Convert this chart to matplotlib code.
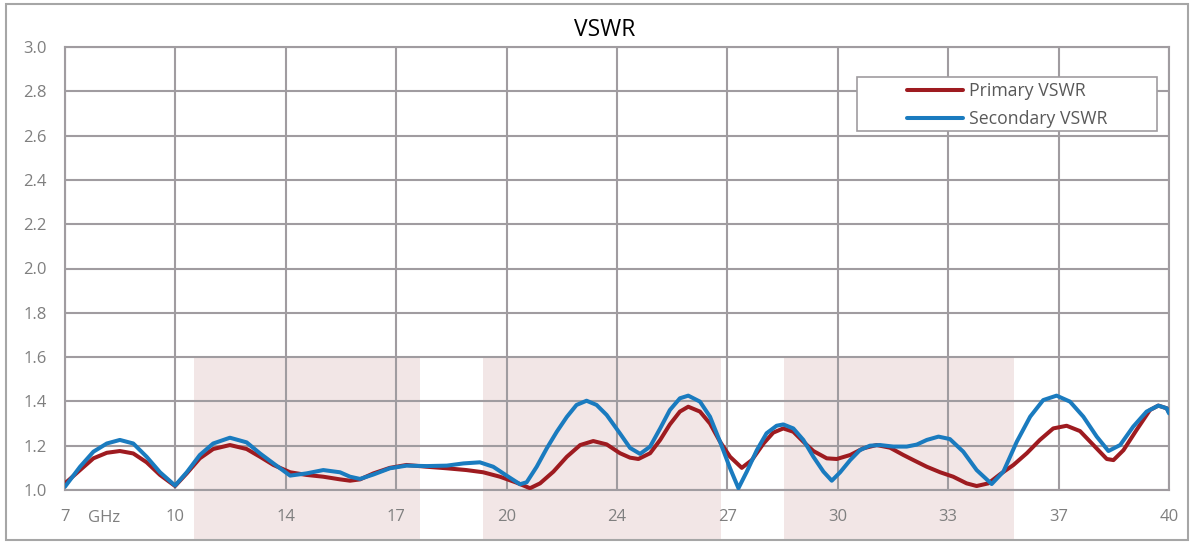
import numpy as np
import matplotlib
matplotlib.use("Agg")
from matplotlib import pyplot as plt
from matplotlib.patches import Rectangle

# data (GHz, VSWR)
primary_f = [7.00, 7.45, 7.85, 8.25, 8.64, 9.04, 9.44, 9.84, 10.29, 10.64, 11.03, 11.43, 11.93,
             12.43, 12.83, 13.23, 13.73, 14.22, 14.72, 15.22, 15.52, 15.82, 16.22, 16.71, 17.21,
             17.81, 18.41, 19.00, 19.50, 20.00, 20.50, 20.90, 21.20, 21.60, 22.00, 22.40, 22.79,
             23.19, 23.59, 23.89, 24.14, 24.49, 24.79, 25.08, 25.38, 25.63, 25.98, 26.28, 26.58,
             26.88, 27.23, 27.53, 27.88, 28.17, 28.47, 28.77, 29.07, 29.37, 29.77, 30.07, 30.47,
             30.86, 31.26, 31.66, 32.06, 32.36, 32.76, 33.16, 33.55, 33.95, 34.25, 34.60, 34.95,
             35.35, 35.75, 36.14, 36.54, 36.94, 37.34, 37.74, 38.14, 38.34, 38.64, 39.03, 39.43,
             39.68, 39.93, 40.00]
primary_v = [1.030, 1.090, 1.143, 1.168, 1.176, 1.165, 1.125, 1.068, 1.018, 1.075, 1.143, 1.185, 1.203,
             1.185, 1.150, 1.113, 1.080, 1.068, 1.060, 1.048, 1.042, 1.048, 1.075, 1.100, 1.113,
             1.105, 1.098, 1.090, 1.080, 1.060, 1.033, 1.008, 1.030, 1.083, 1.150, 1.203, 1.221,
             1.206, 1.166, 1.146, 1.140, 1.166, 1.226, 1.296, 1.354, 1.376, 1.354, 1.300, 1.218,
             1.150, 1.100, 1.135, 1.210, 1.259, 1.278, 1.263, 1.218, 1.176, 1.143, 1.140, 1.158,
             1.188, 1.203, 1.191, 1.158, 1.135, 1.105, 1.080, 1.060, 1.030, 1.018, 1.030, 1.071,
             1.113, 1.166, 1.226, 1.278, 1.290, 1.266, 1.203, 1.140, 1.135, 1.180, 1.271, 1.361,
             1.381, 1.369, 1.350]

secondary_f = [7.00, 7.45, 7.85, 8.25, 8.64, 9.04, 9.44, 9.84, 10.29, 10.64, 11.03, 11.43, 11.93,
               12.43, 12.83, 13.23, 13.73, 14.22, 14.72, 15.22, 15.52, 15.82, 16.22, 16.71, 17.21,
               17.81, 18.41, 18.91, 19.40, 19.80, 20.20, 20.60, 20.80, 21.10, 21.40, 21.70, 22.00,
               22.29, 22.59, 22.89, 23.19, 23.59, 23.89, 24.19, 24.49, 24.79, 25.08, 25.38, 25.63,
               25.98, 26.28, 26.58, 26.88, 27.13, 27.38, 27.68, 27.97, 28.27, 28.47, 28.77, 29.07,
               29.37, 29.67, 29.92, 30.17, 30.47, 30.76, 31.06, 31.36, 31.76, 32.16, 32.46, 32.76,
               33.11, 33.45, 33.85, 34.25, 34.70, 35.05, 35.45, 35.85, 36.24, 36.64, 37.04, 37.44,
               37.84, 38.19, 38.54, 38.93, 39.33, 39.68, 39.93, 40.00]
secondary_v = [1.015, 1.105, 1.173, 1.210, 1.226, 1.210, 1.150, 1.080, 1.020, 1.080, 1.158, 1.210, 1.236,
               1.215, 1.165, 1.120, 1.065, 1.075, 1.090, 1.080, 1.060, 1.050, 1.070, 1.098, 1.110,
               1.108, 1.110, 1.120, 1.125, 1.105, 1.065, 1.026, 1.035, 1.105, 1.188, 1.263, 1.330,
               1.384, 1.403, 1.384, 1.339, 1.255, 1.190, 1.163, 1.196, 1.278, 1.361, 1.414, 1.426,
               1.399, 1.331, 1.218, 1.098, 1.008, 1.083, 1.180, 1.256, 1.290, 1.296, 1.278, 1.226,
               1.150, 1.083, 1.042, 1.080, 1.135, 1.180, 1.200, 1.203, 1.196, 1.196, 1.205, 1.226,
               1.241, 1.230, 1.173, 1.090, 1.027, 1.083, 1.218, 1.331, 1.406, 1.426, 1.399, 1.331,
               1.241, 1.176, 1.203, 1.286, 1.354, 1.381, 1.369, 1.346]

bands = [(10.86, 17.61), (19.49, 26.61), (28.49, 35.37)]
xtick_labels = ['7', '10', '14', '17', '20', '24', '27', '30', '33', '37', '40']

grey = '#A09CA0'
txt = '#7F7F7F'
plt.rcParams['font.family'] = ['Open Sans', 'DejaVu Sans']

fig = plt.figure(figsize=(11.94, 5.42), dpi=100)
ax = fig.add_axes([65/1194, 1-490/542, (1169-65)/1194, (490-47)/542])

# outer chart frame
fig.patches.append(Rectangle((6/1194, 2/542), 1182/1194, 536/542, transform=fig.transFigure,
                             fill=False, edgecolor='#A6A6A6', linewidth=1.5))

for a, b in bands:
    ax.add_patch(Rectangle((a, 0.774), b - a, 1.6 - 0.774, facecolor='#F2E6E6',
                           edgecolor='none', clip_on=False, zorder=0.2))

ax.plot(primary_f, primary_v, color='#9E1B20', lw=2.9, label='Primary VSWR', zorder=3,
        solid_joinstyle='round', solid_capstyle='round')
ax.plot(secondary_f, secondary_v, color='#1A7BBF', lw=2.9, label='Secondary VSWR', zorder=4,
        solid_joinstyle='round', solid_capstyle='round')

ax.set_xlim(7, 40)
ax.set_ylim(1.0, 3.0)
ax.set_xticks(np.linspace(7, 40, 11))
ax.set_xticklabels(xtick_labels)
ax.set_yticks(np.arange(1.0, 3.01, 0.2))
ax.set_yticklabels(['%.1f' % v for v in np.arange(1.0, 3.01, 0.2)])
ax.tick_params(axis='y', length=0, pad=13, labelsize=12, colors=txt)
ax.tick_params(axis='x', length=0, pad=14, labelsize=12, colors=txt)
ax.set_axisbelow(True)
ax.grid(True, color=grey, lw=1.5)
for s in ax.spines.values():
    s.set_color(grey)
    s.set_linewidth(1.5)
ax.patch.set_alpha(0)

ax.text(8.17, -19.5/443, 'GHz', transform=ax.get_xaxis_transform(), ha='center', va='top',
        fontsize=12, color=txt)

fig.text(605/1194, 1-30/542, 'VSWR', ha='center', va='center', fontsize=16.5, color='black')

# legend box is wider than its entries
ax.add_patch(Rectangle((857/1194, 1-131/542), 300/1194, 54/542, transform=fig.transFigure,
                       facecolor='white', edgecolor=grey, lw=1.2, zorder=4.5, clip_on=False))
leg = ax.legend(loc='center left', bbox_to_anchor=(907/1194, 1-105/542),
                bbox_transform=fig.transFigure, frameon=False, fontsize=12.7,
                handlelength=3.2, handletextpad=0.3, borderpad=0, labelspacing=0.58,
                borderaxespad=0)
leg.set_zorder(5)
for t in leg.get_texts():
    t.set_color('#595959')

fig.savefig('out.png', dpi=100)
